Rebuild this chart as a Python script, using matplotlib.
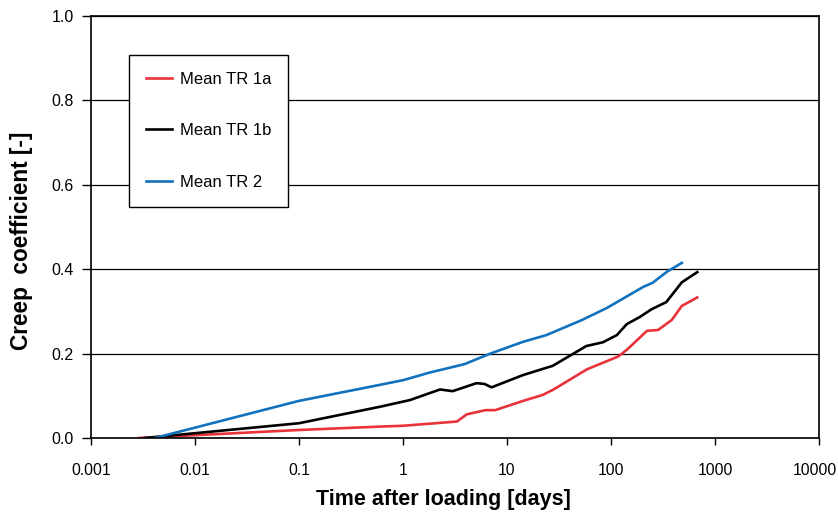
import matplotlib.pyplot as plt
from matplotlib.transforms import ScaledTranslation

plt.rcParams['font.family'] = ['Liberation Sans', 'DejaVu Sans']

# Datos
t_1a = [0.0029, 0.1, 0.6, 1.0, 3.3, 4.1, 6.2, 7.7, 14.3, 22, 27.6, 59, 91,
        117, 142, 222, 284, 385, 480, 675]
phi_1a = [0.0, 0.019, 0.027, 0.029, 0.039, 0.056, 0.066, 0.066, 0.088, 0.102,
          0.114, 0.163, 0.182, 0.193, 0.209, 0.254, 0.256, 0.28, 0.313, 0.333]

t_1b = [0.0033, 0.1, 0.6, 1.17, 2.27, 3.0, 5.1, 6.1, 7.1, 14.2, 27.5, 58, 84,
        114, 142, 190, 245, 340, 480, 675]
phi_1b = [0.0, 0.035, 0.074, 0.09, 0.115, 0.111, 0.13, 0.128, 0.12, 0.149,
          0.171, 0.218, 0.227, 0.244, 0.27, 0.287, 0.305, 0.322, 0.369, 0.393]

t_2 = [0.0041, 0.1, 0.6, 1.0, 1.8, 3.9, 6.9, 14.3, 24, 53, 91, 204, 252, 345, 480]
phi_2 = [0.0, 0.088, 0.126, 0.137, 0.155, 0.175, 0.2, 0.228, 0.244, 0.28,
         0.308, 0.358, 0.368, 0.394, 0.415]

x_ticks = [0.001, 0.01, 0.1, 1, 10, 100, 1000, 10000]
x_labels = ['0.001', '0.01', '0.1', '1', '10', '100', '1000', '10000']
y_ticks = [0.0, 0.2, 0.4, 0.6, 0.8, 1.0]

fig = plt.figure(figsize=(8.38, 5.17), dpi=100)
ax = fig.add_axes([0.1086, 0.1528, 0.8687, 0.8162])

ax.plot(t_1a, phi_1a, color='#e8333a', lw=1.9, label='Mean TR 1a')
ax.plot(t_1b, phi_1b, color='black', lw=1.9, label='Mean TR 1b')
ax.plot(t_2, phi_2, color='#1272bd', lw=1.9, label='Mean TR 2')

ax.set_xscale('log')
ax.set_xlim(0.001, 10000)
ax.set_ylim(0, 1.0)
ax.set_xticks(x_ticks, x_labels)
ax.minorticks_off()
ax.set_yticks(y_ticks, [f'{v:.1f}' for v in y_ticks])

ax.yaxis.grid(True, color='black', lw=0.9)
ax.set_axisbelow(True)
for s in ax.spines.values():
    s.set_linewidth(1.2)
    s.set_color('black')

ax.tick_params(axis='x', length=5, width=1, pad=13, labelsize=11.3, colors='black')
ax.tick_params(axis='y', length=6.5, width=1, pad=6, labelsize=11.5, colors='black')

# la ultima etiqueta queda pegada al borde
ultima = ax.get_xticklabels()[-1]
ultima.set_transform(ultima.get_transform() + ScaledTranslation(-4 / 100, 0, fig.dpi_scale_trans))

ax.set_xlabel('Time after loading [days]', fontsize=15.5, fontweight='bold', labelpad=8)
ax.set_ylabel('Creep  coefficient [-]', fontsize=16.3, fontweight='bold', labelpad=13)
ax.xaxis.label.set_x(0.484)
ax.yaxis.label.set_y(0.467)

leg = ax.legend(loc='upper left', bbox_to_anchor=(129 / 838, 1 - 55 / 517),
                bbox_transform=fig.transFigure, borderaxespad=0, fontsize=12,
                fancybox=False, edgecolor='black', framealpha=1,
                borderpad=1.0, labelspacing=2.2, handlelength=1.6,
                handletextpad=0.45)
leg.get_frame().set_linewidth(1.0)

fig.savefig('out.png', dpi=100)
